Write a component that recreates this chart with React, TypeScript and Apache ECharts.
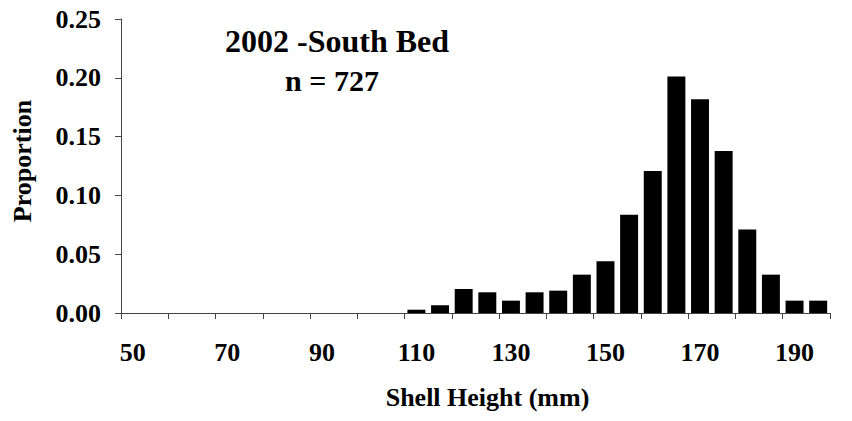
import React, { useEffect, useRef } from "react";
import * as echarts from "echarts";

const shellHeights: number[] = [
  50, 55, 60, 65, 70, 75, 80, 85, 90, 95, 100, 105, 110, 115, 120, 125, 130,
  135, 140, 145, 150, 155, 160, 165, 170, 175, 180, 185, 190, 195,
];
const proportions: number[] = [
  0, 0, 0, 0, 0, 0, 0, 0, 0, 0, 0, 0, 0.0028, 0.0066, 0.0204, 0.0176, 0.0105,
  0.0176, 0.019, 0.0326, 0.044, 0.0836, 0.1207, 0.2012, 0.1817, 0.1378,
  0.0711, 0.0326, 0.0105, 0.0105,
];
const yTicks: number[] = [0, 0.05, 0.1, 0.15, 0.2, 0.25];
const titleLines: string[] = ["2002 -South Bed", "n = 727"];
const xAxisName = "Shell Height (mm)";
const yAxisName = "Proportion";

const FONT = "'Liberation Serif', 'Times New Roman', serif";

export default function App() {
  const ref = useRef<HTMLDivElement>(null);
  useEffect(() => {
    if (!ref.current) return;
    const chart = echarts.init(ref.current, null, { renderer: "svg" });
    const axisColor = "#444";
    chart.setOption({
      animation: false,
      backgroundColor: "#fff",
      textStyle: { fontFamily: FONT },
      grid: { left: 121, right: 22, top: 19, bottom: 108, containLabel: false },
      graphic: [
        {
          type: "text",
          x: 337,
          y: 41,
          style: {
            text: titleLines[0],
            font: `bold 32px ${FONT}`,
            fill: "#000",
            textAlign: "center",
            textVerticalAlign: "middle",
          },
        },
        {
          type: "text",
          x: 332,
          y: 80,
          style: {
            text: titleLines[1],
            font: `bold 30px ${FONT}`,
            fill: "#000",
            textAlign: "center",
            textVerticalAlign: "middle",
          },
        },
      ],
      xAxis: {
        type: "category",
        data: shellHeights.map(String),
        boundaryGap: true,
        name: xAxisName,
        nameLocation: "middle",
        nameGap: 71,
        nameTextStyle: {
          fontFamily: FONT,
          fontWeight: "bold",
          fontSize: 26,
          color: "#000",
          padding: [0, 0, 0, 24],
        },
        axisLine: { show: true, lineStyle: { color: axisColor, width: 1 } },
        axisTick: {
          show: true,
          interval: 1,
          alignWithLabel: false,
          length: 6,
          inside: false,
          lineStyle: { color: axisColor },
        },
        axisLabel: {
          interval: 3,
          margin: 26,
          fontFamily: FONT,
          fontWeight: "bold",
          fontSize: 26,
          color: "#000",
        },
        splitLine: { show: false },
      },
      yAxis: {
        type: "value",
        min: yTicks[0],
        max: yTicks[yTicks.length - 1],
        interval: 0.05,
        name: yAxisName,
        nameLocation: "middle",
        nameGap: 86,
        nameRotate: 90,
        nameTextStyle: {
          fontFamily: FONT,
          fontWeight: "bold",
          fontSize: 26,
          color: "#000",
          padding: [0, 0, 0, 10],
        },
        axisLine: { show: true, lineStyle: { color: axisColor, width: 1 } },
        axisTick: { show: true, length: 6, inside: false, lineStyle: { color: axisColor } },
        axisLabel: {
          margin: 20,
          formatter: (v: number) => v.toFixed(2),
          fontFamily: FONT,
          fontWeight: "bold",
          fontSize: 26,
          color: "#000",
        },
        splitLine: { show: false },
      },
      series: [
        {
          type: "bar",
          data: proportions,
          barCategoryGap: "24%",
          itemStyle: { color: "#000" },
        },
      ],
    });
    return () => chart.dispose();
  }, []);
  return <div ref={ref} style={{ width: 852, height: 421, margin: -8 }} />;
}
